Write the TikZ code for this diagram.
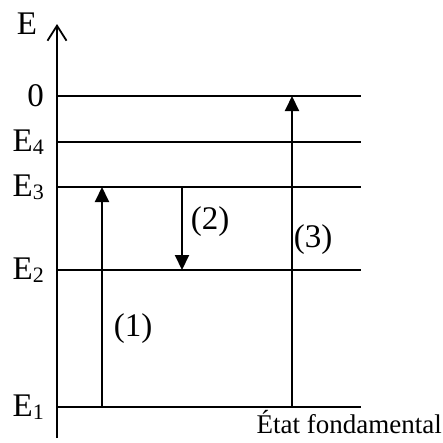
\documentclass[tikz,border=0pt]{standalone}
\usepackage{fontspec}
\setmainfont{Liberation Serif}
\usetikzlibrary{arrows.meta}
\newcommand\lvsub[1]{\raisebox{-3pt}{\fontsize{22}{24}\selectfont #1}}

\begin{document}
\begin{tikzpicture}[x=1pt, y=-1pt, every node/.style={font=\fontsize{33}{38}\selectfont, inner sep=0pt}, level/.style={line width=1.8pt}, trans/.style={-{Triangle[length=15pt, width=14pt]}, line width=2pt}, lab/.style={anchor=east}]
\useasboundingbox (0,0) rectangle (443,442);
% energy axis
\coordinate (axbot) at (57,438);
\coordinate (axtop) at (57,24);
\draw[line width=1.8pt, -{Straight Barb[length=15pt, width=19pt, line width=1.8pt]}] (axbot) -- (axtop);
\node (E) at (27,24) {E};
% levels
\foreach \y/\n/\t in {96/z/0, 142/four/E\lvsub{4}, 187/three/E\lvsub{3}, 270/two/E\lvsub{2}, 407/one/E\lvsub{1}} {
  \coordinate (\n L) at (57,\y);
  \coordinate (\n R) at (361,\y);
  \draw[level] (\n L) -- (\n R);
  \node[lab] (t\n) at (44,\y) {\t};
}
% transitions
\coordinate (a1) at (102,407); \coordinate (b1) at (102,187);
\coordinate (a2) at (182,187); \coordinate (b2) at (182,270);
\coordinate (a3) at (292,407); \coordinate (b3) at (292,96);
\draw[trans] (a1) -- (b1);
\draw[trans] (a2) -- (b2);
\draw[trans] (a3) -- (b3);
\node (n1) at (133,329) {(1)};
\node (n2) at (210,222) {(2)};
\node (n3) at (313,240) {(3)};
\node[anchor=east, font=\fontsize{27}{30}\selectfont] (fond) at (442,422) {État fondamental};
\end{tikzpicture}
\end{document}
